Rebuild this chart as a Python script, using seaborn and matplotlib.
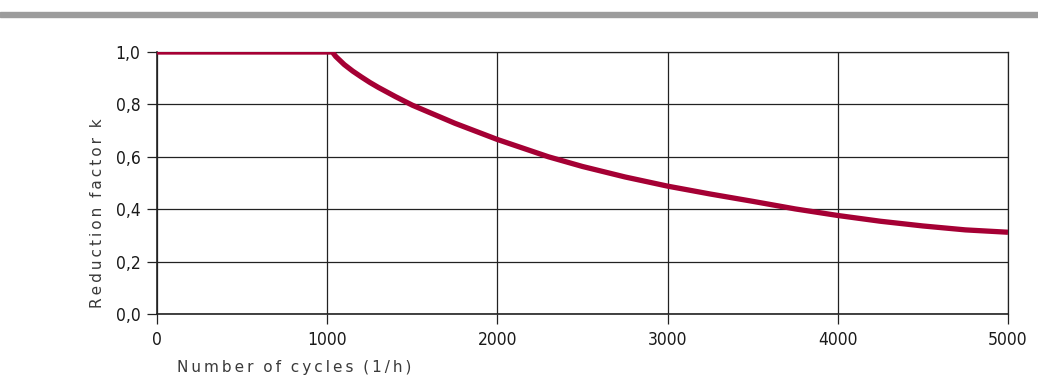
import numpy as np
import pandas as pd
import seaborn as sns
import matplotlib.pyplot as plt
from matplotlib.patches import Rectangle

# values
cycles = [0, 500, 1000, 1030, 1050, 1100, 1150, 1200, 1250, 1300, 1400, 1500, 1750,
          2000, 2300, 2500, 2750, 3000, 3250, 3500, 3750, 4000, 4250, 4500, 4750, 5000]
factor = [1.0, 1.0, 1.0, 1.0, 0.983, 0.952, 0.927, 0.905, 0.884, 0.865, 0.83, 0.797,
          0.728, 0.666, 0.600, 0.563, 0.523, 0.488, 0.458, 0.430, 0.401, 0.376, 0.354,
          0.336, 0.321, 0.312]
xticks = [0, 1000, 2000, 3000, 4000, 5000]
yticks = [0.0, 0.2, 0.4, 0.6, 0.8, 1.0]
ytick_labels = ['0,0', '0,2', '0,4', '0,6', '0,8', '1,0']

sns.set_style('white')
plt.rcParams['font.family'] = ['DejaVu Sans']

df = pd.DataFrame({'cycles': cycles, 'k': factor})

fig = plt.figure(figsize=(10.38, 3.83), dpi=100)
ax = fig.add_axes([0.1513, 0.1802, 0.8198, 0.684])

# grey band at the top
fig.patches.append(Rectangle((0, 0.9556), 1, 0.0131, transform=fig.transFigure,
                             color='#9c9c9c', zorder=0))

sns.lineplot(data=df, x='cycles', y='k', color='#a50034', linewidth=3.8, ax=ax,
             solid_capstyle='butt', zorder=3)

ax.set_xlim(0, 5000)
ax.set_ylim(0, 1.0)
ax.set_xticks(xticks)
ax.set_xticklabels([str(t) for t in xticks])
ax.set_yticks(yticks)
ax.set_yticklabels(ytick_labels)
for lab in ax.get_xticklabels() + ax.get_yticklabels():
    lab.set_fontsize(12.5)
    lab.set_fontstretch('condensed')
    lab.set_color('#1a1a1a')
ax.grid(True, color='#222222', linewidth=0.9)
ax.set_axisbelow(True)
for side in ['top', 'right']:
    ax.spines[side].set_color('#222222')
    ax.spines[side].set_linewidth(0.9)
for side in ['left', 'bottom']:
    ax.spines[side].set_color('#222222')
    ax.spines[side].set_linewidth(1.2)
ax.tick_params(axis='both', length=7, width=0.9, color='#222222', direction='out',
               bottom=True, left=True, pad=5)

ax.set_xlabel('')
ax.set_ylabel('')
xlab = '\u2009'.join('Number of cycles (1/h)').replace('\u2009 \u2009', '  ')
ylab = '\u2009'.join('Reduction factor k').replace('\u2009 \u2009', '  ')
fig.text(0.1705, 0.041, xlab, fontsize=11, color='#3a3a3a', ha='left', va='center')
fig.text(0.0935, 0.444, ylab, fontsize=11, rotation=90, color='#3a3a3a',
         ha='center', va='center')

fig.savefig('out.png', dpi=100)
